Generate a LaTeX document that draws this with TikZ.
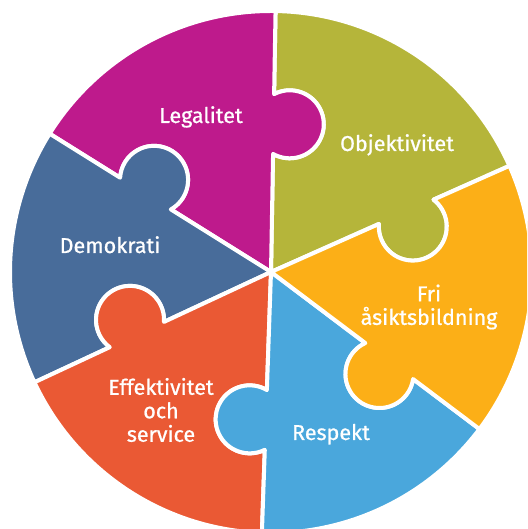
\documentclass[tikz,border=0pt]{standalone}
\usepackage{fontspec}
\usepackage{xcolor}
\newfontfamily\pecafont[FakeBold=0.8]{Fira Sans}
\usetikzlibrary{positioning,calc}

\definecolor{oliva}{HTML}{B5B53A}
\definecolor{magenta}{HTML}{BE1A8C}
\definecolor{azulescuro}{HTML}{486C9A}
\definecolor{vermelho}{HTML}{EA5934}
\definecolor{azulclaro}{HTML}{4AA7DC}
\definecolor{laranja}{HTML}{FCAF17}

\begin{document}
\begin{tikzpicture}[x=1pt, y=1pt,
    peca/.style={draw=white, line width=4pt, line join=round},
    rotulo/.style={text=white, font=\pecafont\fontsize{21.5}{23.5}\selectfont, align=center, inner sep=0pt}]
    \clip (0,0) rectangle (527,529);

    % constantes: raio do círculo e do encaixe
    \def\R{261} \def\ka{148} \def\kh{29.9} \def\kr{34}

    \begin{scope}[shift={(271,257)}]
    \coordinate (O) at (0,0);

    % peças do quebra-cabeça (encaixe no raio horário, furo no anti-horário)
    \filldraw[peca, fill=oliva] (O) -- (24:{\ka-\kh}) arc[start angle=24+151.6, end angle=24+388.4, radius=\kr]
        -- (24:\R) arc[start angle=24, end angle=89, radius=\R]
        -- (89:{\ka+\kh}) arc[start angle=89+28.4, end angle=89-208.4, radius=\kr] -- cycle;
    \filldraw[peca, fill=magenta] (O) -- (89:{\ka-\kh}) arc[start angle=89+151.6, end angle=89+388.4, radius=\kr]
        -- (89:\R) arc[start angle=89, end angle=148, radius=\R]
        -- (148:{\ka+\kh}) arc[start angle=148+28.4, end angle=148-208.4, radius=\kr] -- cycle;
    \filldraw[peca, fill=azulescuro] (O) -- (148:{\ka-\kh}) arc[start angle=148+151.6, end angle=148+388.4, radius=\kr]
        -- (148:\R) arc[start angle=148, end angle=205, radius=\R]
        -- (205:{\ka+\kh}) arc[start angle=205+28.4, end angle=205-208.4, radius=\kr] -- cycle;
    \filldraw[peca, fill=vermelho] (O) -- (205:{\ka-\kh}) arc[start angle=205+151.6, end angle=205+388.4, radius=\kr]
        -- (205:\R) arc[start angle=205, end angle=268, radius=\R]
        -- (268:{\ka+\kh}) arc[start angle=268+28.4, end angle=268-208.4, radius=\kr] -- cycle;
    \filldraw[peca, fill=azulclaro] (O) -- (268:{\ka-\kh}) arc[start angle=268+151.6, end angle=268+388.4, radius=\kr]
        -- (268:\R) arc[start angle=268, end angle=323, radius=\R]
        -- (323:{\ka+\kh}) arc[start angle=323+28.4, end angle=323-208.4, radius=\kr] -- cycle;
    \filldraw[peca, fill=laranja] (O) -- (323:{\ka-\kh}) arc[start angle=323+151.6, end angle=323+388.4, radius=\kr]
        -- (323:\R) arc[start angle=323, end angle=384, radius=\R]
        -- (384:{\ka+\kh}) arc[start angle=384+28.4, end angle=384-208.4, radius=\kr] -- cycle;
    \end{scope}

    % rótulos
    \node[rotulo, anchor=base] (legalitet) at (201,406) {Legalitet};
    \node[rotulo, anchor=base] (objektivitet) at (397,378) {Objektivitet};
    \node[rotulo, anchor=base] (demokrati) at (110,276) {Demokrati};
    \node[rotulo, anchor=base] (respekt) at (331,89) {Respekt};
    \node[rotulo] (fri) at (429,222) {Fri\\åsiktsbildning};
    \node[rotulo] (effektivitet) at (161,119) {Effektivitet\\och\\service};
\end{tikzpicture}
\end{document}
